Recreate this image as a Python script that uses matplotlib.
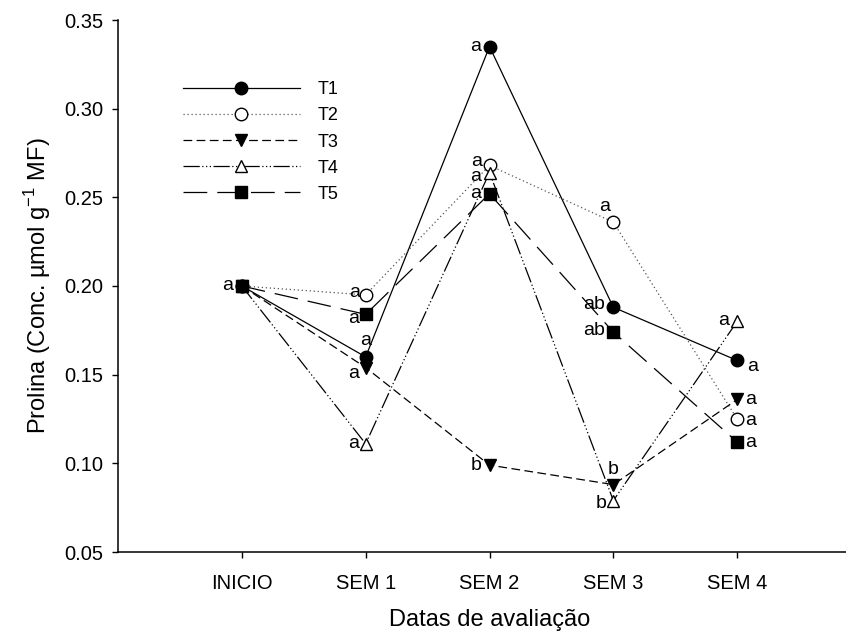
import matplotlib
matplotlib.use("Agg")
import matplotlib.pyplot as plt

plt.rcParams['font.family'] = ['Liberation Sans', 'DejaVu Sans']

# Evaluation dates and proline concentration per treatment
dates = ['INICIO', 'SEM 1', 'SEM 2', 'SEM 3', 'SEM 4']
t1 = [0.200, 0.160, 0.335, 0.188, 0.158]
t2 = [0.200, 0.195, 0.268, 0.236, 0.125]
t3 = [0.200, 0.154, 0.099, 0.088, 0.136]
t4 = [0.200, 0.111, 0.264, 0.079, 0.180]
t5 = [0.200, 0.184, 0.252, 0.174, 0.112]

# Mean-comparison letters for each point
t1_letters = ['a', 'a', 'a', 'ab', 'a']
t2_letters = ['', 'a', 'a', 'a', 'a']
t3_letters = ['', 'a', 'b', 'b', 'a']
t4_letters = ['', 'a', 'a', 'b', 'a']
t5_letters = ['', 'a', 'a', 'ab', 'a']

y_ticks = [0.05, 0.10, 0.15, 0.20, 0.25, 0.30, 0.35]

# where each letter sits relative to its marker (offset in points)
t1_pos = [(-6, 0, 'right', 'center'), (0, 6, 'center', 'bottom'), (-6, 0, 'right', 'center'),
          (-6, 2, 'right', 'center'), (7, -4, 'left', 'center')]
t2_pos = [None, (-4, 2, 'right', 'center'), (-5, 3, 'right', 'center'),
          (-2, 5, 'right', 'bottom'), (6, -1, 'left', 'center')]
t3_pos = [None, (-5, -4, 'right', 'center'), (-6, 0, 'right', 'center'),
          (0, 5, 'center', 'bottom'), (6, 0, 'left', 'center')]
t4_pos = [None, (-5, 0, 'right', 'center'), (-6, -3, 'right', 'center'),
          (-5, -2, 'right', 'center'), (-6, 1, 'right', 'center')]
t5_pos = [None, (-5, -3, 'right', 'center'), (-6, 0, 'right', 'center'),
          (-6, 1, 'right', 'center'), (6, 0, 'left', 'center')]

fig = plt.figure(figsize=(8.46, 6.40), dpi=100)
ax = fig.add_axes([118 / 846, 1 - 552 / 640, 743 / 846, 532 / 640])

x = list(range(1, len(dates) + 1))
lw = 0.9
ms = 9
styles = [
    ('T1', t1, t1_letters, t1_pos, dict(linestyle='-', marker='o', mfc='black')),
    ('T2', t2, t2_letters, t2_pos, dict(linestyle=(0, (1, 2.2)), marker='o', mfc='white', color='#555555', mec='black')),
    ('T3', t3, t3_letters, t3_pos, dict(linestyle=(0, (7, 3.5)), marker='v', mfc='black')),
    ('T4', t4, t4_letters, t4_pos, dict(linestyle=(0, (13, 2, 1, 2, 1, 2, 1, 2)), marker='^', mfc='white', mec='black')),
    ('T5', t5, t5_letters, t5_pos, dict(linestyle=(0, (19, 8)), marker='s', mfc='black')),
]

handles = []
for name, vals, letters, pos, st in styles:
    kw = dict(color='black', mec='black', lw=lw, ms=ms, mew=1.0)
    kw.update(st)
    h, = ax.plot(x, vals, label=name, zorder=3, **kw)
    handles.append(h)
    for xi, v, lab, p in zip(x, vals, letters, pos):
        if lab and p is not None:
            dx, dy, ha, va = p
            ax.annotate(lab, (xi, v), xytext=(dx, dy), textcoords='offset points',
                        ha=ha, va=va, fontsize=14, zorder=4)

ax.set_xlim(0, 6)
ax.set_ylim(0.05, 0.35)
ax.set_xticks(x)
ax.set_xticklabels(dates)
ax.set_yticks(y_ticks)
ax.set_yticklabels([f'{t:.2f}' for t in y_ticks])
ax.tick_params(direction='out', length=4.5, width=1.0, labelsize=14.5, pad=6)
ax.tick_params(axis='x', pad=11)
for s in ['top', 'right']:
    ax.spines[s].set_visible(False)
for s in ['left', 'bottom']:
    ax.spines[s].set_linewidth(1.1)

ax.set_xlabel('Datas de avaliação', fontsize=17, labelpad=12)
ax.set_ylabel(r'Prolina (Conc. µmol g$^{\mathregular{-1}}$ MF)', fontsize=17, labelpad=8)

ax.legend(handles=handles, loc='upper left', bbox_to_anchor=(0.065, 0.915), frameon=False,
          handlelength=6.5, fontsize=13, labelspacing=0.5, handletextpad=1.0)

fig.savefig('out.png', dpi=100)
